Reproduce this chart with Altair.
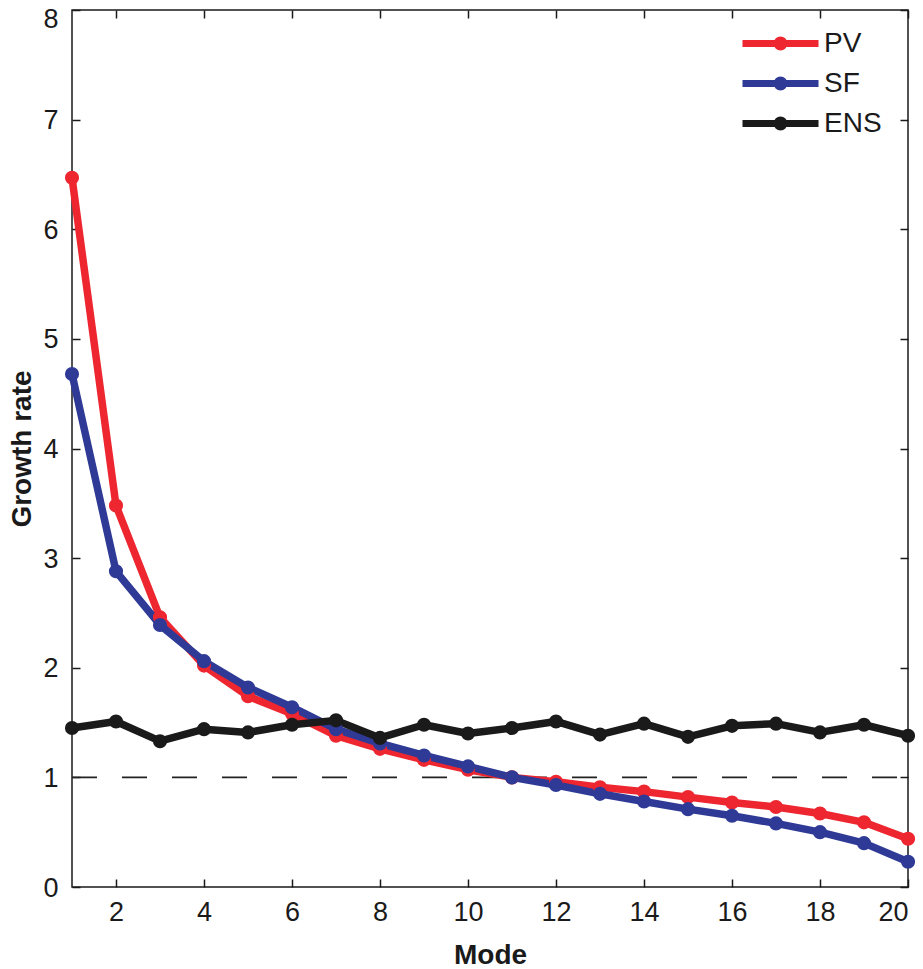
import altair as alt
import pandas as pd

modes = list(range(1, 21))
pv = [6.47, 3.48, 2.46, 2.02, 1.74, 1.58, 1.38, 1.26, 1.16, 1.07,
      1.00, 0.96, 0.91, 0.87, 0.82, 0.77, 0.73, 0.67, 0.59, 0.44]
sf = [4.68, 2.88, 2.39, 2.06, 1.82, 1.64, 1.44, 1.31, 1.20, 1.10,
      1.00, 0.93, 0.85, 0.78, 0.71, 0.65, 0.58, 0.50, 0.40, 0.23]
ens = [1.45, 1.51, 1.33, 1.44, 1.41, 1.48, 1.52, 1.36, 1.48, 1.40,
       1.45, 1.51, 1.39, 1.49, 1.37, 1.47, 1.49, 1.41, 1.48, 1.38]
series_names = ["PV", "SF", "ENS"]
series_colors = ["#ED2630", "#2E3A96", "#1A1A1A"]
x_ticks = [2, 4, 6, 8, 10, 12, 14, 16, 18, 20]
y_ticks = [0, 1, 2, 3, 4, 5, 6, 7, 8]
ref_level = [1.0]

rows = []
for name, vals in zip(series_names, [pv, sf, ens]):
    for m, v in zip(modes, vals):
        rows.append({"mode": m, "value": v, "series": name})
df = pd.DataFrame(rows)
ref_df = pd.DataFrame({"x": [modes[0]], "x2": [modes[-1]], "y": ref_level})

W, H = 836, 877
FONT = "Liberation Sans"
xs = alt.Scale(domain=[1, 20], nice=False, zero=False)
ys = alt.Scale(domain=[0, 8], nice=False, zero=True)

legend_path = "M-2,0H2M-0.18,0A0.18,0.18,0,1,0,0.18,0A0.18,0.18,0,1,0,-0.18,0Z"

lines = alt.Chart(df).mark_line(
    strokeWidth=7.5, strokeJoin="round",
    point=alt.OverlayMarkDef(filled=True, size=200, opacity=1),
).encode(
    x=alt.X("mode:Q", scale=xs, axis=alt.Axis(
        orient="bottom", values=x_ticks, ticks=False, tickSize=0, domain=False,
        grid=False, labelFontSize=27, labelPadding=12, title="Mode",
        titleFontSize=28, titleFontWeight="bold", titlePadding=16)),
    y=alt.Y("value:Q", scale=ys, axis=alt.Axis(
        orient="left", values=y_ticks[:-1], ticks=False, tickSize=0, domain=False,
        grid=False, labelFontSize=27, labelPadding=14, labelOffset=1,
        title="Growth rate", titleFontSize=28, titleFontWeight="bold",
        titlePadding=6)),
    color=alt.Color("series:N", scale=alt.Scale(domain=series_names, range=series_colors),
                    legend=alt.Legend(
                        orient="none", legendX=686, legendY=11, title=None,
                        symbolType=legend_path, symbolSize=1444, symbolStrokeWidth=7,
                        labelFontSize=28, labelFont=FONT, labelColor="#1a1a1a",
                        labelOffset=21, rowPadding=-3, padding=0)),
)

# top tick label kept inside the page
top_label = alt.Chart(df).mark_point(opacity=0).encode(
    y=alt.Y("value:Q", scale=ys, axis=alt.Axis(
        orient="left", values=y_ticks[-1:], ticks=False, tickSize=0, domain=False,
        grid=False, labelFontSize=27, labelPadding=14, labelOffset=9, title=None)),
)

ref = alt.Chart(ref_df).mark_rule(strokeDash=[25, 25], strokeWidth=1.6, color="#222222").encode(
    x=alt.X("x:Q", scale=xs, axis=alt.Axis(
        orient="top", offset=-H, values=x_ticks, labels=False, domain=False,
        grid=False, ticks=True, tickSize=8, title=None)),
    x2="x2:Q",
    y=alt.Y("y:Q", scale=ys, axis=alt.Axis(
        orient="right", offset=-W, values=y_ticks, labels=False, domain=False,
        grid=False, ticks=True, tickSize=8, title=None)),
)

ghost = alt.Chart(df).mark_point(opacity=0).encode(
    x=alt.X("mode:Q", scale=xs, axis=alt.Axis(
        orient="bottom", offset=-H, values=x_ticks, labels=False, domain=False,
        grid=False, ticks=True, tickSize=8, title=None)),
    y=alt.Y("value:Q", scale=ys, axis=alt.Axis(
        orient="left", offset=-W, values=y_ticks, labels=False, domain=False,
        grid=False, ticks=True, tickSize=8, title=None)),
)

chart = alt.layer(ref, lines, ghost, top_label).resolve_axis(
    x="independent", y="independent"
).properties(
    width=W, height=H,
    autosize=alt.AutoSizeParams(type="none"),
    padding={"left": 64, "top": 2, "right": 7, "bottom": 82},
    background="white",
).configure_view(
    stroke="#1a1a1a", strokeWidth=1.5
).configure_axis(
    labelFont=FONT, titleFont=FONT, labelColor="#1a1a1a", titleColor="#1a1a1a",
    tickColor="#1a1a1a", tickWidth=1.5
)

chart.save("out.html", embed_options={"renderer": "svg", "actions": False})
